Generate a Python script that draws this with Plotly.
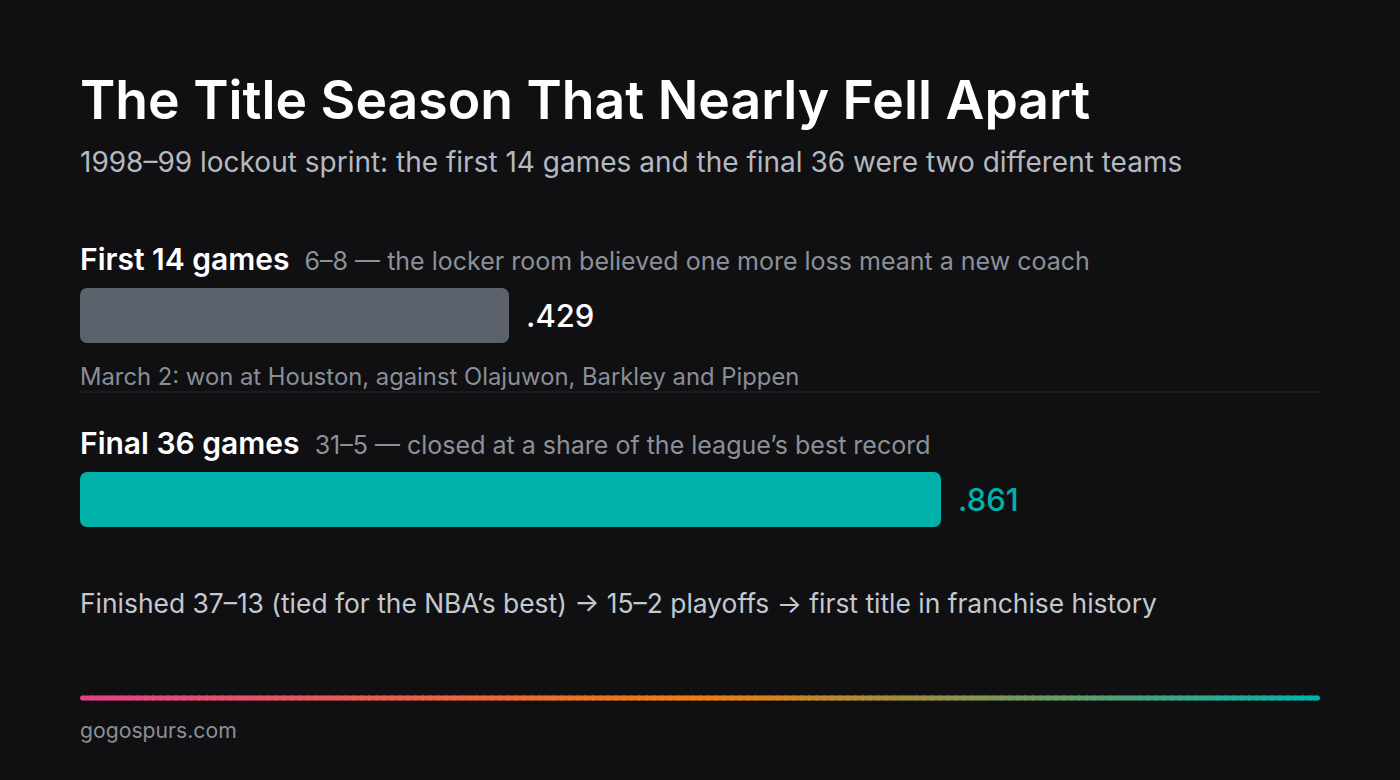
import plotly.graph_objects as go

# ---- data ----
categories = ["First 14 games", "Final 36 games"]
records = ["6–8", "31–5"]
notes = ["the locker room believed one more loss meant a new coach",
         "closed at a share of the league’s best record"]
win_pct = [0.429, 0.861]
value_labels = [".429", ".861"]
bar_colors = ["#5b626c", "#00b1aa"]
value_colors = ["#ffffff", "#00b1aa"]

title = "The Title Season That Nearly Fell Apart"
subtitle = "1998–99 lockout sprint: the first 14 games and the final 36 were two different teams"
callout = "March 2: won at Houston, against Olajuwon, Barkley and Pippen"
footer = "Finished 37–13 (tied for the NBA’s best) → 15–2 playoffs → first title in franchise history"
source = "gogospurs.com"

W, H = 1400, 780
BG = "#101013"
FONT = "Inter"
L, R = 80, 80
plot_w = W - L - R
px_per_unit = 184.0
first_center = 315.5
y_top = -first_center / px_per_unit
y_bot = y_top + H / px_per_unit
XS = -2  # side-bearing correction


def py(p):
    return 1 - p / H


fig = go.Figure()
rows = list(range(len(categories)))
# two overlapping pieces per bar so both ends get rounded corners
fig.add_trace(go.Bar(
    y=rows, x=[v * 0.7 for v in win_pct], base=[v * 0.3 for v in win_pct], orientation="h",
    marker=dict(color=bar_colors, line=dict(width=0)),
    width=55 / px_per_unit, hoverinfo="skip", showlegend=False,
))
fig.add_trace(go.Bar(
    y=rows, x=[-v * 0.7 for v in win_pct], base=[v * 0.7 for v in win_pct], orientation="h",
    marker=dict(color=bar_colors, line=dict(width=0)),
    width=55 / px_per_unit, hoverinfo="skip", showlegend=False,
))

ann = []
ann.append(dict(text=title, x=0, y=py(100), xref="paper", yref="paper", xshift=XS,
                xanchor="left", yanchor="middle", showarrow=False,
                font=dict(size=53.5, color="#ffffff", family=FONT, weight=600)))
ann.append(dict(text=subtitle, x=0, y=py(162), xref="paper", yref="paper", xshift=XS,
                xanchor="left", yanchor="middle", showarrow=False,
                font=dict(size=28, color="#b4b9c1", family=FONT)))

label_y = [259, 443]
for i, cat in enumerate(categories):
    ann.append(dict(
        text=f"{cat}  <span style='font-size:25px;font-weight:400;color:#8c9199'>{records[i]} — {notes[i]}</span>",
        x=0, y=py(label_y[i]), xref="paper", yref="paper", xanchor="left", yanchor="middle",
        xshift=XS, showarrow=False, font=dict(size=30, color="#ffffff", family=FONT, weight=600)))
    ann.append(dict(text=value_labels[i], x=win_pct[i], y=i, xref="x", yref="y",
                    xanchor="left", yanchor="middle", xshift=15, showarrow=False,
                    font=dict(size=31, color=value_colors[i], family=FONT, weight=500)))

ann.append(dict(text=callout, x=0, y=py(376), xref="paper", yref="paper", xshift=XS,
                xanchor="left", yanchor="middle", showarrow=False,
                font=dict(size=23.8, color="#898e97", family=FONT)))
ann.append(dict(text=footer, x=0, y=py(603), xref="paper", yref="paper", xshift=XS,
                xanchor="left", yanchor="middle", showarrow=False,
                font=dict(size=26.4, color="#c4c8cf", family=FONT)))
ann.append(dict(text=source, x=0, y=py(730), xref="paper", yref="paper", xshift=XS,
                xanchor="left", yanchor="middle", showarrow=False,
                font=dict(size=21.2, color="#8a8f97", family=FONT)))

shapes = [dict(type="line", xref="paper", yref="paper", x0=0, x1=1, y0=py(392), y1=py(392),
               line=dict(color="#26282d", width=1))]

# gradient rule
stops = [(0.0, (232, 62, 140)), (0.5, (240, 124, 10)), (1.0, (0, 178, 170))]


def grad(t):
    for (t0, c0), (t1, c1) in zip(stops[:-1], stops[1:]):
        if t <= t1:
            f = (t - t0) / (t1 - t0)
            return "rgb(%d,%d,%d)" % tuple(round(a + (b - a) * f) for a, b in zip(c0, c1))
    return "rgb(%d,%d,%d)" % stops[-1][1]


cap = 2.5 / plot_w
n = 160
for k in range(n):
    t0, t1 = k / n, (k + 1) / n
    a = cap + (1 - 2 * cap) * t0
    b = cap + (1 - 2 * cap) * min(1, t1 + 0.0015)
    shapes.append(dict(type="line", xref="paper", yref="paper", x0=a, x1=b,
                       y0=py(698), y1=py(698), line=dict(color=grad((t0 + t1) / 2), width=5)))
for xa, t in [(cap, 0.0), (1 - cap, 1.0)]:
    shapes.append(dict(type="circle", xref="paper", yref="paper",
                       xsizemode="pixel", ysizemode="pixel", xanchor=xa, yanchor=py(698),
                       x0=-2.5, x1=2.5, y0=-2.5, y1=2.5,
                       fillcolor=grad(t), line=dict(width=0)))

fig.update_layout(
    width=W, height=H, paper_bgcolor=BG, plot_bgcolor=BG,
    margin=dict(l=L, r=R, t=0, b=0),
    barmode="overlay", barcornerradius=7,
    xaxis=dict(range=[0, plot_w / 1000.0], visible=False, fixedrange=True),
    yaxis=dict(range=[y_bot, y_top], visible=False, fixedrange=True),
    annotations=ann, shapes=shapes, showlegend=False,
    font=dict(family=FONT),
)

fig.write_html("out.html", config={"displayModeBar": False},
               post_script="document.body.style.margin='0';document.body.style.background='#101013';")
